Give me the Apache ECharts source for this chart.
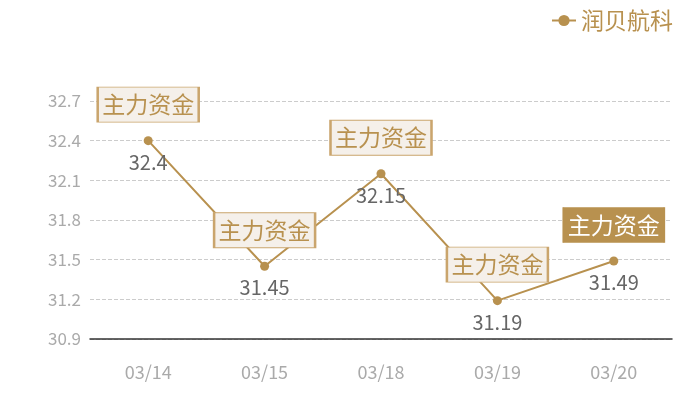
<!DOCTYPE html>
<html>
	<head>
		<meta charset="utf-8" />
		<title>润贝航科</title>
		<script src="https://cdn.jsdelivr.net/npm/echarts@6/dist/echarts.min.js"></script>
		<style>
			html, body { margin: 0; padding: 0; background: #fff; }
			#main { width: 700px; height: 400px; }
		</style>
	</head>
	<body>
		<div id="main"></div>
	<script>
	// 数据
	var dates = ["03/14", "03/15", "03/18", "03/19", "03/20"];
	var prices = [32.4, 31.45, 32.15, 31.19, 31.49];
	var tags = ["主力资金", "主力资金", "主力资金", "主力资金", "主力资金"];
	var activeIndex = 4;

	var gold = '#b8914f';
	var font = '"Noto Sans CJK SC", "Noto Sans", sans-serif';

	// 标记点
	var marks = dates.map(function (d, i) {
		var on = i === activeIndex;
		return {
			name: tags[i],
			coord: [d, prices[i]],
			itemStyle: on
				? { color: gold, borderColor: gold, borderWidth: 1 }
				: { color: '#f5f0ea', borderColor: '#caa56d', borderWidth: 1.5 },
			label: { color: on ? '#fff' : gold }
		};
	});

	var chart = echarts.init(document.getElementById('main'));
	var option = {
		textStyle: { fontFamily: font },
		legend: {
			data: ['润贝航科'],
			right: 22,
			top: 4,
			itemWidth: 24,
			itemHeight: 14,
			itemGap: 6,
			textStyle: { color: gold, fontSize: 23, fontFamily: font }
		},
		grid: { left: 90, right: 28, top: 101, bottom: 61 },
		xAxis: {
			type: 'category',
			data: dates,
			axisTick: { show: false },
			axisLine: { lineStyle: { color: '#333', width: 1.5 } },
			axisLabel: { color: '#aaa', fontSize: 18, margin: 24, fontFamily: font }
		},
		yAxis: {
			type: 'value',
			min: 30.9,
			max: 32.7,
			interval: 0.3,
			axisLine: { show: false },
			axisTick: { show: false },
			axisLabel: {
				color: '#aaa', fontSize: 17, margin: 9, fontFamily: font,
				formatter: function (v) { return v.toFixed(1); }
			},
			splitLine: { lineStyle: { color: '#ccc', type: 'dashed' } }
		},
		series: [{
			name: '润贝航科',
			type: 'line',
			data: prices,
			symbol: 'circle',
			symbolSize: 9,
			itemStyle: { color: gold },
			lineStyle: { color: gold, width: 2 },
			label: {
				show: true,
				position: 'bottom',
				distance: 7,
				color: '#666',
				fontSize: 20,
				fontFamily: font
			},
			markPoint: {
				symbol: 'rect',
				symbolSize: [101, 35],
				symbolOffset: [0, -36],
				label: {
					show: true,
					position: 'inside',
					fontSize: 23,
					fontFamily: font,
					formatter: '{b}'
				},
				data: marks
			}
		}]
	};
	chart.setOption(option);
	</script>
	</body>
</html>
